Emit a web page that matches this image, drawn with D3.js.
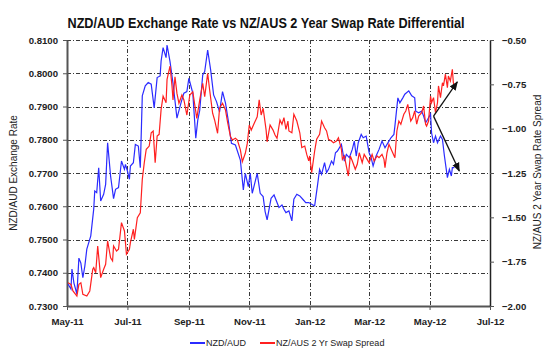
<!DOCTYPE html>
<html>
<head>
<meta charset="utf-8">
<script src="https://cdn.jsdelivr.net/npm/d3@7"></script>
<style>
  body { margin: 0; background: #fff; }
  svg { font-family: "Liberation Sans", Arial, sans-serif; }
</style>
</head>
<body>
<div id="chart"></div>
<script>
// NZD/AUD spot (left axis) - date, rate
var nzdAud = [
  ["2011-05-02",0.7366],["2011-05-05",0.7351],["2011-05-06",0.7411],["2011-05-08",0.7369],["2011-05-11",0.7336],
  ["2011-05-13",0.7444],["2011-05-15",0.7429],["2011-05-17",0.7385],["2011-05-19",0.7420],["2011-05-21",0.7471],
  ["2011-05-25",0.7511],["2011-05-28",0.7592],["2011-05-29",0.7646],["2011-05-31",0.7641],["2011-06-02",0.7716],
  ["2011-06-04",0.7616],["2011-06-07",0.7636],["2011-06-09",0.7666],["2011-06-11",0.7791],["2011-06-14",0.7691],
  ["2011-06-17",0.7623],["2011-06-19",0.7651],["2011-06-22",0.7656],["2011-06-25",0.7736],["2011-06-28",0.7711],
  ["2011-06-29",0.7726],["2011-07-01",0.7706],["2011-07-03",0.7681],["2011-07-04",0.7721],["2011-07-07",0.7731],
  ["2011-07-09",0.7786],["2011-07-12",0.7781],["2011-07-14",0.7716],["2011-07-16",0.7932],["2011-07-19",0.7962],
  ["2011-07-22",0.7972],["2011-07-25",0.7967],["2011-07-28",0.7896],["2011-07-31",0.7987],["2011-08-03",0.7992],
  ["2011-08-04",0.8037],["2011-08-06",0.8077],["2011-08-09",0.8047],["2011-08-10",0.8085],["2011-08-13",0.8035],
  ["2011-08-16",0.7970],["2011-08-20",0.7865],["2011-08-24",0.7910],["2011-08-27",0.7940],["2011-08-30",0.7945],
  ["2011-09-01",0.7985],["2011-09-05",0.7940],["2011-09-08",0.7805],["2011-09-10",0.7859],["2011-09-12",0.7889],
  ["2011-09-15",0.7995],["2011-09-17",0.8005],["2011-09-20",0.8070],["2011-09-23",0.8010],["2011-09-26",0.7935],
  ["2011-09-29",0.7914],["2011-10-02",0.7884],["2011-10-05",0.7945],["2011-10-08",0.7910],["2011-10-11",0.7854],
  ["2011-10-14",0.7789],["2011-10-18",0.7784],["2011-10-23",0.7739],["2011-10-26",0.7649],["2011-10-28",0.7699],
  ["2011-10-31",0.7659],["2011-11-02",0.7699],["2011-11-04",0.7639],["2011-11-09",0.7699],["2011-11-12",0.7639],
  ["2011-11-15",0.7629],["2011-11-17",0.7584],["2011-11-19",0.7559],["2011-11-23",0.7624],["2011-11-26",0.7634],
  ["2011-11-30",0.7604],["2011-12-01",0.7596],["2011-12-04",0.7604],["2011-12-06",0.7591],["2011-12-08",0.7581],
  ["2011-12-11",0.7586],["2011-12-14",0.7556],["2011-12-16",0.7621],["2011-12-19",0.7636],["2011-12-22",0.7631],
  ["2011-12-25",0.7621],["2011-12-28",0.7611],["2011-12-31",0.7611],["2012-01-03",0.7606],["2012-01-06",0.7601],
  ["2012-01-09",0.7666],["2012-01-11",0.7711],["2012-01-13",0.7696],["2012-01-16",0.7731],["2012-01-18",0.7701],
  ["2012-01-20",0.7711],["2012-01-23",0.7736],["2012-01-25",0.7726],["2012-01-27",0.7761],["2012-01-29",0.7766],
  ["2012-02-02",0.7786],["2012-02-05",0.7736],["2012-02-07",0.7756],["2012-02-10",0.7746],["2012-02-13",0.7771],
  ["2012-02-15",0.7796],["2012-02-17",0.7751],["2012-02-19",0.7791],["2012-02-22",0.7816],["2012-02-24",0.7806],
  ["2012-02-27",0.7811],["2012-03-01",0.7761],["2012-03-03",0.7746],["2012-03-05",0.7721],["2012-03-08",0.7751],
  ["2012-03-11",0.7771],["2012-03-14",0.7796],["2012-03-17",0.7776],["2012-03-21",0.7796],["2012-03-23",0.7806],
  ["2012-03-26",0.7816],["2012-03-27",0.7841],["2012-03-30",0.7926],["2012-04-01",0.7911],["2012-04-04",0.7926],
  ["2012-04-06",0.7937],["2012-04-10",0.7947],["2012-04-13",0.7932],["2012-04-16",0.7926],["2012-04-17",0.7886],
  ["2012-04-20",0.7881],["2012-04-23",0.7886],["2012-04-25",0.7871],["2012-04-27",0.7851],["2012-04-29",0.7861],
  ["2012-05-02",0.7877],["2012-05-03",0.7821],["2012-05-05",0.7791],["2012-05-07",0.7811],["2012-05-09",0.7791],
  ["2012-05-12",0.7811],["2012-05-14",0.7801],["2012-05-16",0.7751],["2012-05-19",0.7686],["2012-05-21",0.7711],
  ["2012-05-23",0.7691],["2012-05-24",0.7716],["2012-05-26",0.7716]
];

// NZ/AUS 2yr swap spread (right axis) - date, spread
var swapSpread = [
  ["2011-05-02",-1.869],["2011-05-05",-1.878],["2011-05-07",-1.915],["2011-05-11",-1.944],["2011-05-13",-1.878],
  ["2011-05-15",-1.869],["2011-05-17",-1.934],["2011-05-21",-1.944],["2011-05-24",-1.915],["2011-05-27",-1.793],
  ["2011-05-28",-1.784],["2011-05-30",-1.812],["2011-06-01",-1.662],["2011-06-04",-1.840],["2011-06-07",-1.793],
  ["2011-06-09",-1.765],["2011-06-11",-1.633],["2011-06-14",-1.728],["2011-06-16",-1.746],["2011-06-17",-1.662],
  ["2011-06-20",-1.690],["2011-06-22",-1.680],["2011-06-25",-1.530],["2011-06-28",-1.577],["2011-06-30",-1.708],
  ["2011-07-03",-1.680],["2011-07-04",-1.643],["2011-07-07",-1.567],["2011-07-08",-1.624],["2011-07-11",-1.502],
  ["2011-07-14",-1.474],["2011-07-16",-1.286],["2011-07-18",-1.192],["2011-07-20",-1.116],["2011-07-23",-1.098],
  ["2011-07-25",-1.023],["2011-07-27",-1.013],["2011-07-29",-1.192],["2011-07-31",-1.041],["2011-08-02",-1.032],
  ["2011-08-04",-0.891],["2011-08-06",-0.816],["2011-08-09",-0.854],["2011-08-10",-0.722],["2011-08-13",-0.647],
  ["2011-08-15",-0.759],["2011-08-16",-0.838],["2011-08-18",-0.707],["2011-08-20",-0.801],["2011-08-22",-0.857],
  ["2011-08-25",-0.810],["2011-08-27",-0.838],["2011-08-30",-0.923],["2011-09-02",-0.810],["2011-09-05",-0.792],
  ["2011-09-09",-0.942],["2011-09-12",-0.838],["2011-09-15",-0.744],["2011-09-17",-0.820],["2011-09-20",-0.688],
  ["2011-09-22",-0.782],["2011-09-25",-0.913],["2011-09-27",-0.951],["2011-09-30",-1.026],["2011-10-02",-0.885],
  ["2011-10-05",-0.857],["2011-10-08",-0.895],["2011-10-10",-0.961],["2011-10-13",-1.045],["2011-10-15",-1.064],
  ["2011-10-18",-1.054],["2011-10-20",-1.064],["2011-10-23",-1.120],["2011-10-25",-1.186],["2011-10-28",-1.139],
  ["2011-10-30",-1.083],["2011-11-01",-0.979],["2011-11-03",-1.008],["2011-11-06",-0.970],["2011-11-09",-0.933],
  ["2011-11-11",-0.838],["2011-11-13",-0.923],["2011-11-15",-0.885],["2011-11-18",-1.008],["2011-11-19",-1.074],
  ["2011-11-22",-0.979],["2011-11-25",-1.008],["2011-11-27",-1.036],["2011-11-29",-1.054],["2011-12-02",-0.951],
  ["2011-12-04",-0.975],["2011-12-06",-0.938],["2011-12-08",-1.004],["2011-12-10",-0.957],["2011-12-11",-1.013],
  ["2011-12-14",-1.023],["2011-12-16",-0.919],["2011-12-19",-0.957],["2011-12-22",-1.023],["2011-12-24",-1.107],
  ["2011-12-27",-1.098],["2011-12-29",-1.145],["2011-12-31",-1.182],["2012-01-01",-1.154],["2012-01-03",-1.248],
  ["2012-01-06",-1.126],["2012-01-08",-1.060],["2012-01-11",-1.032],["2012-01-13",-0.957],["2012-01-16",-0.995],
  ["2012-01-18",-1.013],["2012-01-20",-1.060],["2012-01-23",-1.070],["2012-01-25",-1.079],["2012-01-28",-1.070],
  ["2012-01-30",-1.051],["2012-02-02",-1.116],["2012-02-03",-1.173],["2012-02-05",-1.154],["2012-02-07",-1.211],
  ["2012-02-09",-1.267],["2012-02-11",-1.154],["2012-02-13",-1.182],["2012-02-16",-1.229],["2012-02-18",-1.201],
  ["2012-02-20",-1.136],["2012-02-23",-1.192],["2012-02-25",-1.145],["2012-02-28",-1.173],["2012-03-01",-1.192],
  ["2012-03-04",-1.145],["2012-03-06",-1.182],["2012-03-09",-1.154],["2012-03-11",-1.164],["2012-03-14",-1.145],
  ["2012-03-16",-1.173],["2012-03-17",-1.220],["2012-03-19",-1.136],["2012-03-21",-1.088],["2012-03-24",-1.126],
  ["2012-03-27",-1.164],["2012-03-29",-1.013],["2012-03-31",-0.957],["2012-04-02",-0.975],["2012-04-05",-0.919],
  ["2012-04-07",-0.900],["2012-04-09",-0.863],["2012-04-12",-0.957],["2012-04-14",-0.938],["2012-04-16",-0.900],
  ["2012-04-18",-0.975],["2012-04-20",-0.929],["2012-04-23",-0.910],["2012-04-25",-0.872],["2012-04-27",-0.975],
  ["2012-04-28",-0.985],["2012-04-30",-0.957],["2012-05-02",-0.816],["2012-05-03",-0.854],["2012-05-05",-0.825],
  ["2012-05-07",-0.910],["2012-05-09",-0.854],["2012-05-10",-0.759],["2012-05-12",-0.825],["2012-05-14",-0.741],
  ["2012-05-15",-0.759],["2012-05-17",-0.693],["2012-05-19",-0.769],["2012-05-20",-0.703],["2012-05-22",-0.731],
  ["2012-05-24",-0.665],["2012-05-25",-0.741],["2012-05-26",-0.759]
];

var xTicks = ["2011-05-01","2011-07-01","2011-09-01","2011-11-01","2012-01-01","2012-03-01","2012-05-01","2012-07-01"];
var leftTicks = [0.73, 0.74, 0.75, 0.76, 0.77, 0.78, 0.79, 0.80, 0.81];
var rightTicks = [-2.00, -1.75, -1.50, -1.25, -1.00, -0.75, -0.50];
// arrows drawn on the chart: start/end in (date, NZD/AUD) terms
var arrowFrom = ["2012-05-05", 0.7871];
var arrowTo = [["2012-05-29", 0.7974], ["2012-05-31", 0.7706]];

var title = "NZD/AUD Exchange Rate vs NZ/AUS 2 Year Swap Rate Differential";
var seriesNames = ["NZD/AUD", "NZ/AUS 2 Yr Swap Spread"];
var seriesColors = ["#2b2bff", "#ff2020"];

const WIDTH = 550, HEIGHT = 360;
var margin = {top: 40, right: 60, bottom: 54, left: 67};
var parse = d3.timeParse("%Y-%m-%d");

var svg = d3.select("#chart").append("svg")
    .attr("width", WIDTH)
    .attr("height", HEIGHT);

var x = d3.scaleTime()
    .domain([parse(xTicks[0]), parse(xTicks[xTicks.length - 1])])
    .range([margin.left, WIDTH - margin.right]);
var yL = d3.scaleLinear().domain([0.73, 0.81]).range([HEIGHT - margin.bottom, margin.top]);
var yR = d3.scaleLinear().domain([-2.0, -0.5]).range([HEIGHT - margin.bottom, margin.top]);

// 그리드 (dash-dot)
var grid = svg.append("g").attr("stroke", "#3a3a3a").attr("stroke-width", 1)
    .attr("stroke-dasharray", "4,2,1,2").attr("fill", "none");
leftTicks.slice(1).forEach(function(t) {
    grid.append("line").attr("x1", x.range()[0]).attr("x2", x.range()[1])
        .attr("y1", Math.round(yL(t)) + 0.5).attr("y2", Math.round(yL(t)) + 0.5);
});
xTicks.slice(1, -1).forEach(function(t) {
    var px = Math.round(x(parse(t))) + 0.5;
    grid.append("line").attr("x1", px).attr("x2", px)
        .attr("y1", yL.range()[1]).attr("y2", yL.range()[0]);
});

// axes
var fmtX = d3.timeFormat("%b-%y");
var xAxis = svg.append("g")
    .attr("transform", "translate(0," + yL.range()[0] + ")")
    .call(d3.axisBottom(x).tickValues(xTicks.map(parse)).tickFormat(fmtX).tickSize(4).tickSizeOuter(0));
var lAxis = svg.append("g")
    .attr("transform", "translate(" + x.range()[0] + ",0)")
    .call(d3.axisLeft(yL).tickValues(leftTicks).tickFormat(d3.format(".4f")).tickSize(4).tickSizeOuter(0));
var rAxis = svg.append("g")
    .attr("transform", "translate(" + x.range()[1] + ",0)")
    .call(d3.axisRight(yR).tickValues(rightTicks).tickFormat(d3.format(".2f")).tickSize(4).tickSizeOuter(0));

[xAxis, lAxis, rAxis].forEach(function(a) {
    a.selectAll("text").attr("font-family", "Liberation Sans, Arial, sans-serif")
        .attr("font-weight", "bold").attr("font-size", "9.6px").attr("fill", "#222");
    a.select(".domain").attr("stroke", "#555").attr("stroke-width", 2);
    a.selectAll(".tick line").attr("stroke", "#555");
});
xAxis.selectAll("text").attr("dy", "1.2em");
lAxis.selectAll("text").attr("x", -9);
rAxis.selectAll("text").attr("x", 12);
rAxis.select(".domain").attr("stroke", "#222").attr("stroke-width", 1.5);

// lines
var lineL = d3.line().x(function(d) { return x(parse(d[0])); }).y(function(d) { return yL(d[1]); });
var lineR = d3.line().x(function(d) { return x(parse(d[0])); }).y(function(d) { return yR(d[1]); });
svg.append("path").datum(nzdAud).attr("d", lineL)
    .attr("fill", "none").attr("stroke", seriesColors[0]).attr("stroke-width", 1.2);
svg.append("path").datum(swapSpread).attr("d", lineR)
    .attr("fill", "none").attr("stroke", seriesColors[1]).attr("stroke-width", 1.2);

// arrows
svg.append("defs").append("marker")
    .attr("id", "head").attr("viewBox", "0 0 10 10").attr("refX", 9).attr("refY", 5)
    .attr("markerWidth", 7).attr("markerHeight", 7).attr("orient", "auto")
    .append("path").attr("d", "M0,1 L10,5 L0,9 z").attr("fill", "#111");
arrowTo.forEach(function(a) {
    svg.append("line")
        .attr("x1", x(parse(arrowFrom[0]))).attr("y1", yL(arrowFrom[1]))
        .attr("x2", x(parse(a[0]))).attr("y2", yL(a[1]))
        .attr("stroke", "#111").attr("stroke-width", 1.3).attr("marker-end", "url(#head)");
});

// title
svg.append("text").attr("x", 266).attr("y", 28).attr("text-anchor", "middle")
    .attr("font-size", "15px").attr("font-weight", "bold").attr("fill", "#111")
    .attr("textLength", 397).attr("lengthAdjust", "spacingAndGlyphs")
    .text(title);

// axis titles
svg.append("text").attr("transform", "translate(17,173) rotate(-90)")
    .attr("text-anchor", "middle").attr("font-size", "10px").attr("fill", "#222")
    .text("NZD/AUD Exchange Rate");
svg.append("text").attr("transform", "translate(541,172) rotate(-90)")
    .attr("text-anchor", "middle").attr("font-size", "10px").attr("fill", "#222")
    .text("NZ/AUS 2 Year Swap Rate Spread");

// legend
var legend = svg.append("g").attr("transform", "translate(190,343)");
var legendX = [0, 70];
seriesNames.forEach(function(name, i) {
    var g = legend.append("g").attr("transform", "translate(" + legendX[i] + ",0)");
    g.append("line").attr("x1", 0).attr("x2", 15).attr("y1", 0).attr("y2", 0)
        .attr("stroke", seriesColors[i]).attr("stroke-width", 2);
    g.append("text").attr("x", 16).attr("y", 3).attr("font-size", "9px").attr("fill", "#222").text(name);
});
</script>
</body>
</html>
